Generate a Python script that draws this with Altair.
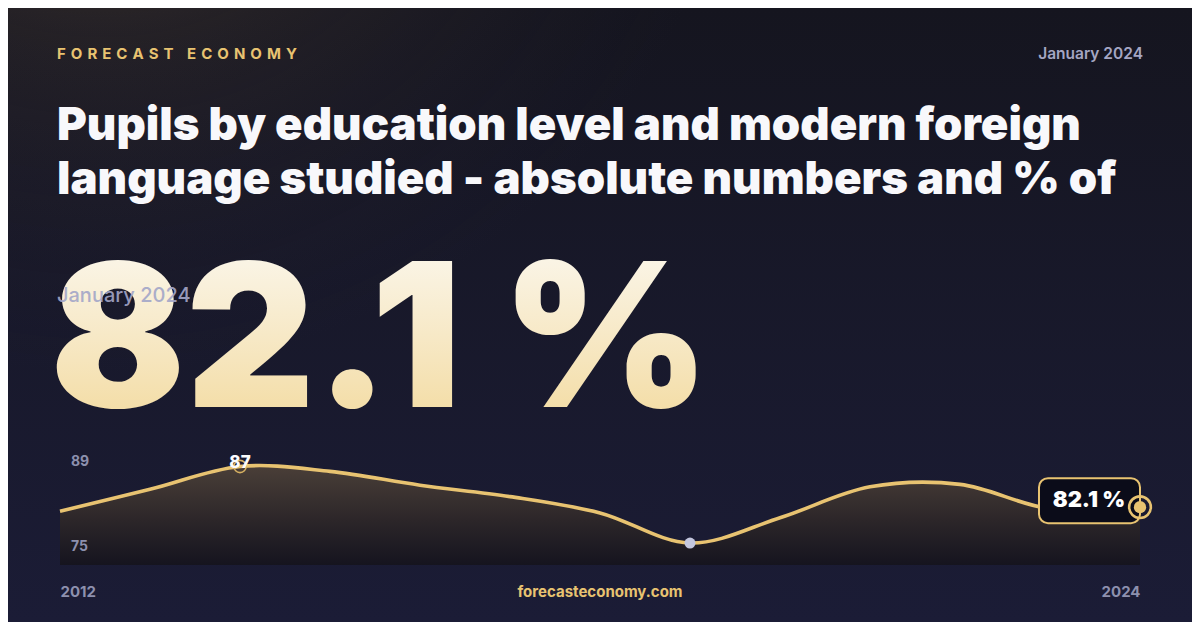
import altair as alt
import pandas as pd

# ---------------- data ----------------
years = [2012, 2013, 2014, 2015, 2016, 2017, 2018, 2019, 2020, 2021, 2022, 2023, 2024]
values = [81.6, 84.3, 87.1, 86.5, 84.8, 83.4, 81.4, 77.7, 80.8, 84.6, 84.9, 81.9, 82.1]
y_labels = [89, 75]
x_labels = [2012, 2024]
brand = "F\u2004O\u2004R\u2004E\u2004C\u2004A\u2004S\u2004T\u2004 \u2004E\u2004C\u2004O\u2004N\u2004O\u2004M\u2004Y"
date_label = "January 2024"
title_lines = [
    "Pupils by education level and modern foreign",
    "language studied - absolute numbers and % of",
]
site = "forecasteconomy.com"

df = pd.DataFrame({"year": years, "value": values})
peak = df.loc[[df["value"].idxmax()]].copy()
peak["label"] = peak["value"].map(lambda v: f"{v:.0f}")
low = df.loc[[df["value"].idxmin()]].copy()
last = df.iloc[[-1]].copy()
last["label"] = last["value"].map(lambda v: f"{v:.1f} %")

FONT = "Inter"
GOLD = "#e8c371"
GREY = "#8d90ae"

x = alt.X(
    "year:Q",
    scale=alt.Scale(domain=[years[0], years[-1]], nice=False, zero=False),
    axis=alt.Axis(
        values=x_labels, format="d", labelFlush=True, ticks=False, tickSize=0,
        domain=False, grid=False, labelPadding=19, title=None, labelFont=FONT,
        labelFontSize=15, labelFontWeight=700, labelColor=GREY, zindex=5,
    ),
)
y = alt.Y("value:Q", scale=alt.Scale(domain=[75, 89], nice=False, zero=False), axis=None)

one = pd.DataFrame({"k": [0]})


def txt(text, xp, yp, **kw):
    return alt.Chart(pd.DataFrame({"t": [text]})).mark_text(font=FONT, **kw).encode(
        x=alt.value(xp), y=alt.value(yp), text="t:N"
    )


# ---------------- background ----------------
bg_base = alt.Chart(one).mark_rect(
    fill=alt.LinearGradient(
        gradient="linear", x1=0, y1=0, x2=0, y2=1,
        stops=[alt.GradientStop(offset=0, color="#15151f"),
               alt.GradientStop(offset=1, color="#1b1c36")],
    )
).encode(x=alt.value(-52), x2=alt.value(1132), y=alt.value(-443), y2=alt.value(171))

bg_glow = alt.Chart(one).mark_rect(
    fill=alt.RadialGradient(
        gradient="radial", x1=0.08, y1=0.0, r1=0, x2=0.08, y2=0.0, r2=0.55,
        stops=[alt.GradientStop(offset=0, color="rgba(125,100,66,0.6)"),
               alt.GradientStop(offset=0.5, color="rgba(90,74,60,0.2)"),
               alt.GradientStop(offset=1, color="rgba(40,36,50,0)")],
    )
).encode(x=alt.value(-52), x2=alt.value(1132), y=alt.value(-443), y2=alt.value(171))

# ---------------- header texts ----------------
brand_t = txt(brand, -3, -392, fontSize=15, fontWeight=700, color=GOLD, align="left", baseline="alphabetic")
date_t = txt(date_label, 1083, -392, fontSize=15.5, fontWeight=600, color="#a4a6c3", align="right", baseline="alphabetic")
title_t = txt("\n".join(title_lines), -3, -311, fontSize=45.5, fontWeight=900, color="#f8f8fb",
              align="left", baseline="alphabetic", lineBreak="\n", lineHeight=54)

big = alt.Chart(last).mark_text(
    font=FONT, fontSize=200, fontWeight=900, align="left", baseline="alphabetic",
    fill=alt.LinearGradient(
        gradient="linear", x1=0, y1=0, x2=0, y2=1,
        stops=[alt.GradientStop(offset=0, color="#fcfbf8"),
               alt.GradientStop(offset=1, color="#f2d796")],
    ),
).encode(x=alt.value(-10), y=alt.value(-44), text="label:N")

date_over = txt(date_label, -3, -149, fontSize=20, fontWeight=500, color="#a3a6c8",
                opacity=0.9, align="left", baseline="alphabetic")

# ---------------- sparkline ----------------
area = alt.Chart(df).mark_area(
    interpolate="catmull-rom",
    color=alt.LinearGradient(
        gradient="linear", x1=0, y1=0, x2=0, y2=1,
        stops=[alt.GradientStop(offset=0, color="#4a3f38"),
               alt.GradientStop(offset=0.55, color="#2c2629"),
               alt.GradientStop(offset=1, color="#15141f")],
    ),
).encode(x=x, y=y, y2=alt.datum(75))

line = alt.Chart(df).mark_line(interpolate="catmull-rom", color=GOLD, strokeWidth=3.6).encode(x=x, y=y)

ylab89 = alt.Chart(pd.DataFrame({"value": [y_labels[0]]})).mark_text(
    font=FONT, fontSize=14, fontWeight=700, color=GREY, align="left", baseline="middle", dy=11
).encode(x=alt.value(11), y=y, text=alt.Text("value:Q", format="d"))
ylab75 = alt.Chart(pd.DataFrame({"value": [y_labels[1]]})).mark_text(
    font=FONT, fontSize=14, fontWeight=700, color=GREY, align="left", baseline="middle", dy=-18
).encode(x=alt.value(11), y=y, text=alt.Text("value:Q", format="d"))

peak_pt = alt.Chart(peak).mark_point(shape="circle", filled=False, size=150, strokeWidth=1.6,
                                     color="#d6b062", opacity=1).encode(x=x, y=y)
peak_lbl = alt.Chart(peak).mark_text(font=FONT, fontSize=17, fontWeight=800, color="#fbfbfd",
                                     baseline="middle", dy=-3).encode(x=x, y=y, text="label:N")

low_pt = alt.Chart(low).mark_circle(size=121, color="#c4c7df", opacity=1).encode(x=x, y=y)

box = alt.Chart(last).mark_rect(
    fill="#0b0c19", stroke=GOLD, strokeWidth=2, cornerRadius=9,
    xOffset=-101, x2Offset=0, yOffset=-29, y2Offset=16,
).encode(x=x, x2=alt.X2("year:Q"), y=y, y2=alt.Y2("value:Q"))
box_lbl = alt.Chart(last).mark_text(font=FONT, fontSize=22, fontWeight=900, color="#ffffff",
                                    baseline="middle", dx=-51, dy=-7).encode(x=x, y=y, text="label:N")
ring = alt.Chart(last).mark_point(shape="circle", filled=False, size=470, strokeWidth=2.6,
                                  color=GOLD, opacity=1).encode(x=x, y=y)
dot = alt.Chart(last).mark_circle(size=150, color=GOLD, opacity=1).encode(x=x, y=y)

site_t = txt(site, 540, 146, fontSize=15, fontWeight=700, color=GOLD, align="center", baseline="alphabetic")

chart = alt.layer(
    bg_base, bg_glow, brand_t, date_t, title_t, big, date_over,
    area, line, ylab89, ylab75, peak_pt, peak_lbl, low_pt, box, box_lbl, ring, dot, site_t,
).properties(
    width=1080, height=114, autosize="none",
    padding={"left": 52, "top": 443, "right": 52, "bottom": 57},
).configure(background="#17182c").configure_view(stroke=None)

chart.save("out.html", embed_options={"renderer": "svg", "actions": False})
